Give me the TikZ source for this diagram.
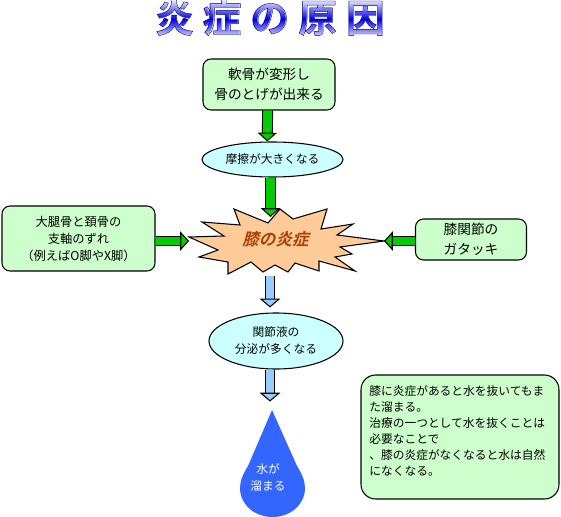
\documentclass[tikz,border=0pt]{standalone}
\usepackage{fontspec}
\setmainfont{Noto Sans CJK JP}
\newfontfamily\kneefont[FakeSlant=0.25]{Noto Sans CJK JP Bold}
\newfontfamily\titlefont{Noto Sans CJK JP Bold}
\usepackage{xcolor}
\usetikzlibrary{arrows.meta,shapes.geometric,fadings}
\definecolor{boxgreen}{HTML}{CCFFCC}
\definecolor{ellcyan}{HTML}{CCFFFF}
\definecolor{stargold}{HTML}{FFCC99}
\definecolor{arrgreen}{HTML}{00CC00}
\definecolor{arrblue}{HTML}{99CCFF}
\definecolor{dropblue}{HTML}{3366FF}
\definecolor{kneetxt}{HTML}{B04000}
\begin{tikzfadingfrompicture}[name=titlefade]
  \node[text=transparent!0, inner sep=0pt, text height=24pt, text depth=2pt, font=\titlefont\fontsize{29}{32}\selectfont] (fadetxt)
    {炎\hspace{6.8pt}症\hspace{6.8pt}の\hspace{6.8pt}原\hspace{6.8pt}因};
\end{tikzfadingfrompicture}
\begin{document}
\begin{tikzpicture}[x=0.75pt, y=-0.75pt,
    box/.style={draw, rounded corners=6pt, line width=0.8pt, fill=boxgreen, align=center, inner sep=0pt},
    oval/.style={draw, ellipse, line width=0.8pt, fill=ellcyan, align=center, inner sep=0pt},
    txtS/.style={font=\fontsize{8.8}{12.75}\selectfont},
    txtM/.style={font=\fontsize{10.25}{15}\selectfont},
    greenarrow/.style={draw=black, line width=0.8pt, double=arrgreen, double distance=6.6pt,
                       -{Triangle[length=6.6pt, width=14.5pt, fill=arrgreen, line width=0.8pt]}},
    bluearrow/.style={draw=black, line width=0.8pt, double=arrblue, double distance=6.6pt,
                      -{Triangle[length=6.6pt, width=15.5pt, fill=arrblue, line width=0.8pt]}}
  ]
    \useasboundingbox (0,0) rectangle (561,517);

    % title
    \shade[top color=blue!8, bottom color=blue!8, middle color=blue!90!black, path fading=titlefade, fit fading=false,
           fading transform={shift={(270,17.5)}}]
      (150,0) rectangle (390,38);
    \node[text=blue!45!black, inner sep=0pt, text height=24pt, text depth=2pt, font=\titlefont\fontsize{29}{32}\selectfont] (title) at (270,17.5)
      {\special{pdf:code 1 Tr 0.3 w}炎\hspace{6.8pt}症\hspace{6.8pt}の\hspace{6.8pt}原\hspace{6.8pt}因\special{pdf:code 0 Tr}};

    % boxes
    \node[box, txtM, minimum width=99pt, minimum height=38.25pt] (cartilage) at (269,84.5) {軟骨が変形し\\骨のとげが出来る};
    \node[oval, txtS, minimum width=105.75pt, minimum height=26.25pt] (friction) at (272.5,159.5) {摩擦が大きくなる};
    \node[box, font=\fontsize{9.2}{12.75}\selectfont, minimum width=114.75pt, minimum height=48.75pt] (axis) at (78.5,238.5) {大腿骨と頚骨の\\支軸のずれ\\（例えばO脚やX脚）};
    \node[box, txtM, minimum width=83.25pt, minimum height=30.75pt] (shaky) at (471,239.5) {膝関節の\\ガタッキ};
    \node[oval, txtS, minimum width=100.5pt, minimum height=42pt] (fluid) at (276,341) {関節液の\\分泌が多くなる};

    % star
    \fill[stargold, draw=black, line width=0.8pt]
      (189,237) -- (224,236) -- (202,222) -- (240,225) -- (234,209) -- (268,223) -- (280,209) -- (293,219)
      -- (327,209) -- (321,229) -- (353,224) -- (337,235) -- (384,241) -- (340,247) -- (352,254) -- (335,257)
      -- (355,271) -- (319,261) -- (319,271) -- (295,263) -- (288,272) -- (275,265) -- (263,272) -- (251,262)
      -- (228,274) -- (228,262) -- (199,257) -- (218,250) -- cycle;
    \node[text=kneetxt, font=\kneefont\fontsize{12.4}{14}\selectfont, inner sep=0pt] (knee) at (275.5,239) {膝の炎症};
    \coordinate (starN) at (270.5,217);
    \coordinate (starS) at (270,276);
    \coordinate (starW) at (189,241);
    \coordinate (starE) at (384,241);

    % drop
    \fill[dropblue] (272,410) -- (248,466) .. controls (243,474) and (240,481) .. (240,488)
      .. controls (240,505) and (255,517) .. (272.5,517) .. controls (290,517) and (305,505) .. (305,488)
      .. controls (305,481) and (302,474) .. (297,466) -- cycle;
    \node[text=white, txtS, align=center, inner sep=0pt] (water) at (268,478) {水が\\溜まる};

    % note
    \node[box, font=\fontsize{8.8}{12}\selectfont, rounded corners=11pt, align=left, minimum width=148.5pt, minimum height=93pt, text width=136pt] (note) at (460,437)
      {膝に炎症があると水を抜いてもま\\た溜まる。\\治療の一つとして水を抜くことは\\必要なことで\\、膝の炎症がなくなると水は自然\\になくなる。\\[-3pt]\mbox{}};

    % arrows
    \draw[greenarrow] ([xshift=-1pt]cartilage.south) -- ([xshift=-4pt]friction.north);
    \draw[greenarrow] ([xshift=-1.5pt]friction.south) -- (starN);
    \draw[greenarrow] (axis.east |- starW) -- (starW);
    \draw[greenarrow] (shaky.west |- starE) -- (starE);
    \draw[bluearrow] (starS) -- ([xshift=-4.5pt,yshift=3.75pt]fluid.north);
    \draw[bluearrow] ([xshift=-4.5pt]fluid.south) -- ++(0,32);
  \end{tikzpicture}
\end{document}
